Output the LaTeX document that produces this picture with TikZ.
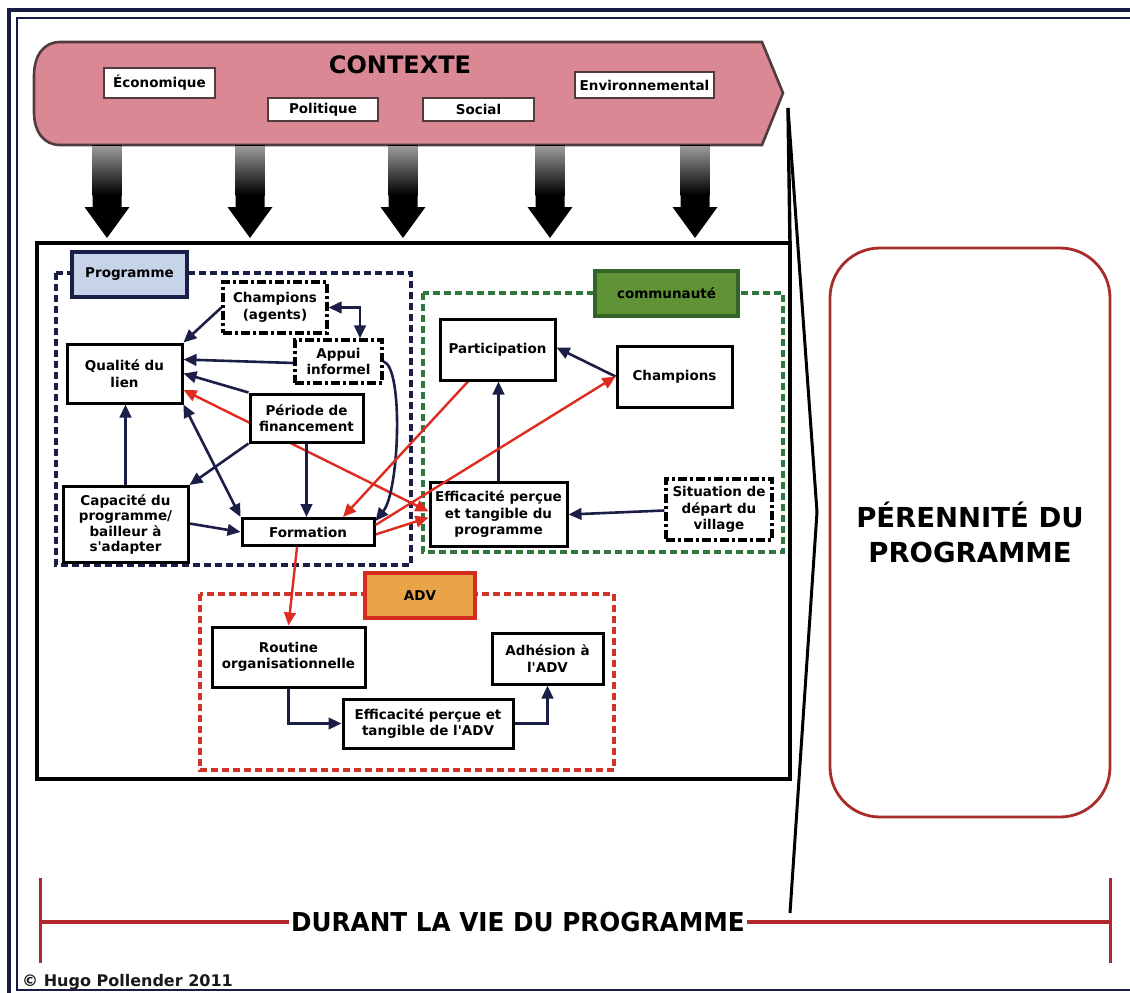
\documentclass[tikz,border=0pt]{standalone}
\usepackage{fontspec}
\usepackage{graphicx}
\setmainfont{DejaVu Sans}[Ligatures=TeXOff]
\usetikzlibrary{arrows.meta,calc}

\definecolor{navy}{RGB}{27,31,72}
\definecolor{framenavy}{RGB}{24,28,68}
\definecolor{arrred}{RGB}{222,44,32}
\definecolor{ctxpink}{RGB}{218,136,148}
\definecolor{ctxline}{RGB}{80,60,62}
\definecolor{progfill}{RGB}{198,211,233}
\definecolor{comdashc}{RGB}{46,120,62}
\definecolor{comfill}{RGB}{96,146,54}
\definecolor{comlblc}{RGB}{50,100,40}
\definecolor{advdashc}{RGB}{206,52,40}
\definecolor{advfill}{RGB}{233,163,72}
\definecolor{advlblc}{RGB}{214,44,32}
\definecolor{perred}{RGB}{168,44,40}
\definecolor{tlred}{RGB}{176,40,44}

\newcommand\cellfont{\bfseries\fontsize{13.5}{16.5}\selectfont}

\pgfdeclarelayer{bg}
\pgfdeclarelayer{edges}
\pgfsetlayers{bg,edges,main}

\begin{document}
\begin{tikzpicture}[x=1pt,y=-1pt,
  box/.style={draw=black, line width=3pt, fill=white, inner sep=1pt, align=center, font=\cellfont, text=black},
  ddbox/.style={box, line width=3.2pt, dash pattern=on 9pt off 3pt on 3pt off 3pt},
  lblbox/.style={box, line width=3.4pt},
  ctxbox/.style={draw=ctxline, line width=2pt, fill=white, inner sep=1pt, font=\bfseries\fontsize{13.5}{15}\selectfont},
  nav/.style={draw=navy, line width=2.6pt, -{Triangle[length=13pt,width=11.5pt]}},
  nav2/.style={draw=navy, line width=2.6pt, {Triangle[length=13pt,width=11.5pt]}-{Triangle[length=13pt,width=11.5pt]}},
  rd/.style={draw=arrred, line width=2.4pt, -{Triangle[length=13pt,width=11.5pt]}},
  rd2/.style={draw=arrred, line width=2.4pt, {Triangle[length=13pt,width=11.5pt]}-{Triangle[length=13pt,width=11.5pt]}},
  regdash/.style={line width=3.2pt, dash pattern=on 7pt off 4pt},
  tline/.style={draw=tlred, line width=4pt},
  tickl/.style={draw=tlred, line width=3pt},
]
\useasboundingbox (0,0) rectangle (1130,993);
\clip (0,0) rectangle (1130,993);

% ---------- frame, regions and outlines ----------
\begin{pgfonlayer}{bg}
  \fill[white] (0,0) rectangle (1130,993);
  \draw[framenavy, line width=3.8pt] (9,10) rectangle (1140,1003);
  \draw[framenavy, line width=2.8pt] (17,18) rectangle (1133,990);

  % context band
  \filldraw[fill=ctxpink, draw=ctxline, line width=2.6pt]
    (762,42) -- (783,93) -- (762,145) -- (60,145)
    .. controls (44,145) and (34,132) .. (34,112) -- (34,76)
    .. controls (34,55) and (44,42) .. (60,42) -- cycle;

  % influence arrows
  \foreach \ax in {107,250,403,550,695}{
    \fill[black] (\ax-14.5,145) -- (\ax+14.5,145) -- (\ax+14.5,207) -- (\ax+22.5,207)
      -- (\ax,238) -- (\ax-22.5,207) -- (\ax-14.5,207) -- cycle;
    \shade[top color=black!40, bottom color=black] (\ax-14.5,146.5) rectangle (\ax+14.5,195);
  }

  % programme-life box and bracket
  \draw[black, line width=3.4pt] (37,243) rectangle (790,779);
  \draw[black, line width=3.4pt] (790,243) -- (788,108);
  \draw[black, line width=3pt, line join=round] (788,108) -- (817,512) -- (790,913);

  % dashed regions
  \draw[regdash, draw=navy] (56,273) rectangle (411,565);
  \draw[regdash, draw=comdashc] (423,293) rectangle (783,552);
  \draw[regdash, draw=advdashc] (200,594) rectangle (614,770);
\end{pgfonlayer}

% ---------- context ----------
\node[font=\bfseries\fontsize{24}{28}\selectfont] (ctx) at (400,65) {CONTEXTE};
\node[ctxbox, minimum width=111, minimum height=30] (eco) at (159.5,83) {Économique};
\node[ctxbox, minimum width=110, minimum height=23] (pol) at (323,109.5) {Politique};
\node[ctxbox, minimum width=111, minimum height=23] (soc) at (478.5,109.5) {Social};
\node[ctxbox, minimum width=139, minimum height=26] (env) at (644.5,85) {Environnemental};

% ---------- programme ----------
\node[lblbox, fill=progfill, draw=navy, minimum width=115, minimum height=45] (proglbl) at (129.5,274.5) {Programme};
\node[ddbox, minimum width=104, minimum height=51] (champA) at (275,307.5) {Champions\\(agents)};
\node[ddbox, minimum width=87, minimum height=43] (appui) at (338.5,361.5) {Appui\\informel};
\node[box, minimum width=115, minimum height=59] (qual) at (124.5,373.5) {Qualité du\\lien};
\node[box, minimum width=113, minimum height=48] (periode) at (306.5,418) {Période de\\financement};
\node[box, minimum width=125, minimum height=76, font=\bfseries\fontsize{13.5}{15.5}\selectfont] (capac) at (125.5,524.5) {Capacité du\\programme/\\bailleur à\\s'adapter};
\node[box, minimum width=132, minimum height=27] (form) at (308,532) {Formation};

% ---------- communauté ----------
\node[lblbox, fill=comfill, draw=comlblc, minimum width=143, minimum height=45] (comlbl) at (666.5,293.5) {communauté};
\node[box, minimum width=115, minimum height=61] (partic) at (497.5,349.5) {Participation};
\node[box, minimum width=115, minimum height=61] (champC) at (674.5,376.5) {Champions};
\node[box, minimum width=137, minimum height=64] (effP) at (498.5,514.5) {Efficacité perçue\\et tangible du\\programme};
\node[ddbox, minimum width=106, minimum height=61] (situ) at (719,509.5) {Situation de\\départ du\\village};

% ---------- ADV ----------
\node[lblbox, fill=advfill, draw=advlblc, minimum width=110, minimum height=45] (advlbl) at (420,595.5) {ADV};
\node[box, minimum width=153, minimum height=60] (routine) at (288.5,657) {Routine\\organisationnelle};
\node[box, minimum width=170, minimum height=49] (effA) at (428,723.5) {Efficacité perçue et\\tangible de l'ADV};
\node[box, minimum width=111, minimum height=51] (adh) at (547.5,658.5) {Adhésion à\\l'ADV};

% ---------- links ----------
\begin{pgfonlayer}{edges}
  \draw[nav] (champA.west) -- (qual.north east);
  \draw[nav2] (champA.east) -| ([xshift=21.5pt]appui.north);
  \draw[nav] ([yshift=-1.5pt]appui.west) -- ([yshift=14pt]qual.east);
  \draw[nav] (periode.north west) -- (qual.east);
  \draw[rd2] ([yshift=-16.5pt]qual.east) -- ([yshift=3pt]effP.west);
  \draw[nav] (appui.east) .. controls +(20,6) and +(24,-30) .. ([yshift=11pt]form.east);
  \draw[nav] (periode.south) -- (form.north -| periode.south);
  \draw[nav] (periode.south west) -- (capac.north east);
  \draw[nav] (capac.north) -- (qual.south -| capac.north);
  \draw[nav2] (qual.south east) -- (form.north west);
  \draw[nav] ([yshift=1pt]capac.east) -- (form.west);
  \draw[nav] (effP.north) -- (partic.south -| effP.north);
  \draw[nav] (champC.west) -- ([yshift=2pt]partic.east);
  \draw[nav] ([yshift=-1pt]situ.west) -- (effP.east);
  \draw[rd] ([xshift=-29.5pt]partic.south) -- ([xshift=35pt]form.north);
  \draw[rd] ([yshift=-2.5pt]form.east) -- ([yshift=-3pt]effP.west);
  \draw[rd] ([xshift=-11pt]form.south) -- (routine.north);
  \draw[nav] (routine.south) |- (effA.west);
  \draw[nav] (effA.east) -| (adh.south);
\end{pgfonlayer}
\draw[rd] ([yshift=7pt]form.east) -- (champC.west);

% ---------- sustainability ----------
\node[draw=perred, line width=2.8pt, rounded corners=50pt, minimum width=280, minimum height=569,
      align=center, font=\bfseries\fontsize{27.5}{35}\selectfont] (peren) at (970,532.5)
      {PÉRENNITÉ DU\\PROGRAMME};

% ---------- time line ----------
\coordinate (tlL) at (40,922);
\coordinate (tlR) at (1110,922);
\begin{pgfonlayer}{bg}
  \draw[tline] (tlL) -- (tlR);
  \draw[tickl] ([yshift=44pt]tlL) -- ([yshift=-41pt]tlL);
  \draw[tickl] ([yshift=44pt]tlR) -- ([yshift=-41pt]tlR);
\end{pgfonlayer}
\node[fill=white, inner xsep=2pt, inner ysep=0pt, font=\bfseries\fontsize{26}{30}\selectfont] (vie) at (518,922)
  {\scalebox{0.95}[1]{DURANT LA VIE DU PROGRAMME}};

\node[anchor=base west, inner sep=0pt, text=black!90, font=\bfseries\fontsize{16}{18}\selectfont] (copy) at (22,986)
  {© Hugo Pollender 2011};
\end{tikzpicture}
\end{document}
